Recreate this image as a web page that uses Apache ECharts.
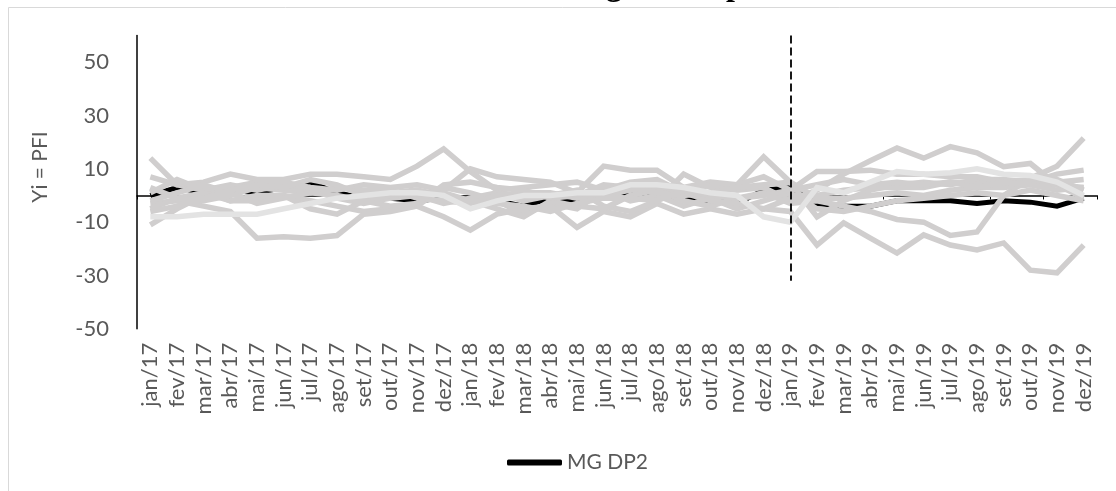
<!DOCTYPE html>
<html>
<head>
<meta charset="utf-8">
<script src="https://cdn.jsdelivr.net/npm/echarts@6/dist/echarts.min.js"></script>
<style>
html,body{margin:0;padding:0;background:#fff;}
#chart{width:1116px;height:491px;}
</style>
</head>
<body>
<div id="chart"></div>
<script>
const categories = ['jan/17','fev/17','mar/17','abr/17','mai/17','jun/17','jul/17','ago/17','set/17','out/17','nov/17','dez/17',
  'jan/18','fev/18','mar/18','abr/18','mai/18','jun/18','jul/18','ago/18','set/18','out/18','nov/18','dez/18',
  'jan/19','fev/19','mar/19','abr/19','mai/19','jun/19','jul/19','ago/19','set/19','out/19','nov/19','dez/19'];

const mgDP2 = [0, 3, 1, 2, 1, 3, 5, 1, -1, -1, -2, -1, -1, -2, -4, -1, -2, 0, 1, 0, -1, -2, -3, 2, 3, -3, -4, -4, -2, -2, -2, -3, -2, -2.5, -4, -1];

const greyA = [14, 4, 2, -2, 0, 0, -2, -4, -6, -5, -4, 3, 1, -2, -7, -3, -5, 2, -2, 0, -4, -1, -5, -2, 1, -5, -6, -4, -2, -1, 0, 1, 0, 2, 0, -2];
const greyB = [-3, -2, -4, -6, -16, -15.5, -16, -15, -7, -6, -4, -8, -13, -7, -5, -4, -12, -6, -8, -3, -7, -5, -7, -5, -6, -18.6, -10.3, -16, -21.6, -14.8, -18.6, -20.4, -17.8, -28, -29, -18.6];
const greyC = [7, 4, 5, 8, 6, 6, 8, 8, 7, 6, 11, 17.5, 9, 2, 3, 4, 5, 2, 5, 6, 1, 4, 4, 14.5, 5, -8, -2, 2, 4, 5, 4, 6, 6, 5, 4, 3];
const greyD = [-11, -5, 0, 3, 5, 5, 3, 2, 4, 3, 4, 2, 10, 7, 6, 5, 1, 11, 9.5, 9.5, 3, 5, 4, 7, 2, 9, 9, 9.5, 8, 8, 7, 7, 5, 6, 6, 2];
const greyE = [1, 6, 2, 4, 2, 4, 2, -1, -3, -1, 0, -3, -1, 1, -2, 0, 2, -4, -6, -2, 8, 3, 2, 3, -2, 2, 8, 13, 17.8, 14, 18.3, 16, 10.8, 12, 4, -1];
const greyF = [-5, -1, 1, -2, -2, 0, -5, -7, -2, 0, 1, 1, -2, -5, -8, -2, -4, -5, 0, 2, -2, -4, -1, 1, -3, -2, -4, -6, -9, -10, -15, -13.7, 0, 6.5, 11, 21.5];
const greyG = [3, -1, -2, 0, 3, 2, 1, 3, 2, 2, -1, -2, -3, 0, 1, 1, -1, 0, 2, 3, 1, -2, -3, -5, -1, 0, 2, 3, 3, 3, 5, 4, 4, 5, 8, 9.5];
const greyH = [-2, 1, 4, 1, -3, -1, 1, 0, -2, -4, -3, 4, 5, 3, 2, -1, 0, 4, 3, 1, 0, 1, 3, 4, 5, -1, -1, 0, 1, 0, 2, 3, 3, 4, 5, 6];
const greyI = [-6, -4, -1, 2, 4, 3, 6, 4, 0, 1, 2, 0, -2, -3, -4, -6, -3, -1, -1, -2, 2, 0, -1, 0, 2, 4, 6, 4, 5, 4, 5, 3, 5, 4, 2, 3];
const lightGrey = [-8, -8, -7, -7, -7, -5, -3, -1, 0, 1, 1, 0, -5, -2, 0, 0, 1, 1, 4, 4, 3, 1, 0, -8, -10, 3, 1, 5, 9, 8, 8.5, 10, 8, 7.5, 5, 0];

const yTicks = [-50, -30, -10, 10, 30, 50];
const cutoffCategory = 'jan/19';
const cutoffRange = [60, -32];

const greyColor = '#d0cece';
const greySeries = [greyA, greyB, greyC, greyD, greyE, greyF, greyG, greyH, greyI].map((d, i) => ({
  name: 'grey' + i, type: 'line', xAxisIndex: 0, data: d, symbol: 'none', silent: true,
  lineStyle: { color: greyColor, width: 5.5, join: 'miter' }, itemStyle: { color: greyColor }
}));

const chart = echarts.init(document.getElementById('chart'));
chart.setOption({
  animation: false,
  backgroundColor: '#fff',
  graphic: [
    { type: 'rect', shape: { x: 8.5, y: 7.5, width: 1200, height: 600 }, style: { fill: 'none', stroke: '#d9d9d9', lineWidth: 1 }, z: -10 },
    { type: 'text', x: 343, y: -13, style: { text: 'de MG, com defasagens temporais', font: 'bold 32px "Liberation Serif"', fill: '#000', verticalAlign: 'middle' } },
    { type: 'text', x: 40, y: 167, rotation: Math.PI / 2, style: { text: 'Yi = PFI', font: '21px Lato', fill: '#595959', align: 'center', verticalAlign: 'middle' } }
  ],
  grid: { left: 137, right: 19, top: 35.5, bottom: 162.2 },
  legend: {
    data: [{ name: 'MG DP2', icon: 'roundRect' }], left: 502, top: 447, itemWidth: 55, itemHeight: 6, itemGap: 5,
    textStyle: { fontFamily: 'Lato', fontSize: 21, color: '#595959' }
  },
  xAxis: [
    { type: 'category', data: categories, position: 'top', boundaryGap: true,
      axisLine: { onZero: true, lineStyle: { color: '#000', width: 1.5 } },
      axisTick: { show: true, inside: true, length: 4, lineStyle: { color: '#000' } },
      axisLabel: { show: false }, splitLine: { show: false } },
    { type: 'category', data: categories, position: 'bottom', boundaryGap: true,
      axisLine: { show: false, onZero: false }, axisTick: { show: false },
      axisLabel: { rotate: 90, interval: 0, fontFamily: 'Lato', fontSize: 22, color: '#595959', margin: 14 },
      splitLine: { show: false } }
  ],
  yAxis: {
    type: 'value', min: -50, max: 60, interval: 20,
    axisLine: { show: true, lineStyle: { color: '#000', width: 1.5 } },
    axisTick: { show: false }, splitLine: { show: false },
    axisLabel: { showMaxLabel: false, fontFamily: 'Lato', fontSize: 22, color: '#595959', margin: 28,
      formatter: v => (yTicks.indexOf(v) >= 0 ? String(v) : '') }
  },
  series: [
    { name: 'MG DP2', type: 'line', xAxisIndex: 0, data: mgDP2, symbol: 'none', z: 1,
      lineStyle: { color: '#000', width: 5, join: 'miter' }, itemStyle: { color: '#000' },
      markLine: { symbol: 'none', silent: true, label: { show: false },
        lineStyle: { color: '#000', width: 1.8, type: [8, 4] },
        data: [[{ coord: [cutoffCategory, cutoffRange[0]] }, { coord: [cutoffCategory, cutoffRange[1]] }]] } },
    ...greySeries,
    { name: 'light', type: 'line', xAxisIndex: 0, data: lightGrey, symbol: 'none', silent: true,
      lineStyle: { color: '#e3e3e3', width: 5.5, join: 'miter' }, itemStyle: { color: '#e3e3e3' } }
  ]
});
</script>
</body>
</html>
